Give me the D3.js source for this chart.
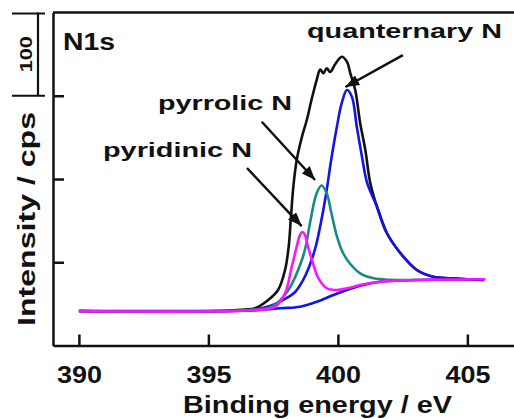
<!DOCTYPE html>
<html>
<head>
<meta charset="utf-8">
<script src="https://cdn.jsdelivr.net/npm/d3@7"></script>
<style>
  body { margin: 0; background: #fff; }
  text { font-family: "Liberation Sans", Arial, sans-serif; font-weight: bold; fill: #111; }
</style>
</head>
<body>
<div id="visual"></div>
<script>
// binding energy (eV) / intensity (cps)
const xTicks = [390, 395, 400, 405];
const yTicks = [100, 200, 300];

const envelope = [
  [390.00, 41.4], [395.84, 42.0], [396.42, 43.2], [396.80, 44.7], [397.31, 54.7],
  [397.69, 66.7], [397.96, 90.7], [398.10, 118.7], [398.18, 150.8], [398.28, 190.8],
  [398.41, 222.8], [398.61, 250.5], [398.80, 270.9], [398.98, 294.9], [399.18, 318.9],
  [399.32, 331.5], [399.44, 327.0], [399.57, 333.0], [399.70, 328.5], [399.90, 338.1],
  [400.15, 346.9], [400.35, 340.9], [400.48, 327.0], [400.67, 306.9], [400.86, 267.3],
  [401.06, 234.8], [401.25, 195.2], [401.51, 166.7], [401.89, 135.1], [402.41, 111.1],
  [403.05, 90.7], [403.68, 82.6], [404.34, 80.7], [405.62, 78.7]
];

const background = [
  [390.00, 41.4], [396.61, 42.0], [397.77, 44.7], [398.54, 46.6], [399.19, 52.6],
  [399.83, 60.7], [400.35, 66.7], [400.86, 71.8], [401.63, 76.6], [403.05, 78.7],
  [405.69, 79.5]
];

const quaternary = [
  [390.00, 41.4], [396.61, 42.6], [397.38, 47.4], [397.96, 55.9], [398.35, 64.3],
  [398.66, 78.7], [398.93, 97.9], [399.16, 120.7], [399.35, 148.3], [399.55, 183.2],
  [399.74, 222.8], [399.96, 262.5], [400.15, 291.3], [400.35, 306.9], [400.54, 298.9],
  [400.73, 262.8], [400.93, 226.8], [401.13, 195.2], [401.51, 166.7], [401.89, 135.1],
  [402.41, 111.1], [403.05, 90.7], [403.68, 82.6], [404.34, 80.7], [405.62, 78.7]
];

const pyrrolic = [
  [390.00, 41.4], [396.61, 42.6], [397.45, 46.6], [398.09, 66.7], [398.61, 102.7],
  [398.77, 120.7], [398.93, 148.3], [399.18, 182.8], [399.37, 192.2], [399.57, 182.8],
  [399.74, 160.4], [399.96, 131.5], [400.20, 111.1], [400.48, 97.9], [400.86, 86.7],
  [401.38, 80.7], [402.02, 78.9], [403.18, 78.7]
];

const pyridinic = [
  [390.00, 41.4], [396.80, 42.6], [397.58, 46.6], [397.96, 62.7], [398.22, 94.7],
  [398.41, 118.7], [398.52, 131.5], [398.62, 136.3], [398.73, 132.7], [398.85, 118.3],
  [399.06, 96.7], [399.25, 80.7], [399.58, 68.7], [399.96, 66.7], [400.35, 68.7],
  [400.99, 73.5], [401.63, 76.6], [403.05, 78.7], [405.69, 79.5]
];

const labels = ["quanternary N", "pyrrolic N", "pyridinic N"];
const arrowFrom = [[402.51, 348.9], [397.06, 268.8], [396.49, 213.2]];
const arrowTo = [[400.29, 310.5], [399.12, 198.8], [398.60, 143.5]];

const W = 514, H = 419;

const svg = d3.select("#visual")
  .append("svg")
  .attr("width", W)
  .attr("height", H);

const x = d3.scaleLinear().domain([389, 406.8]).range([53, 514]);
const y = d3.scaleLinear().domain([0, 400]).range([345.5, 12.5]);

const line = d3.line()
  .x(d => x(d[0]))
  .y(d => y(d[1]))
  .curve(d3.curveCatmullRom.alpha(0.5));

// curves (magenta last so it sits on top of the baseline)
const series = [
  { data: envelope, color: "#111" },
  { data: background, color: "#1414e6" },
  { data: quaternary, color: "#1414e6" },
  { data: pyrrolic, color: "#188a86" },
  { data: pyridinic, color: "#ff14ff" }
];

svg.selectAll("path.curve")
  .data(series)
  .enter()
  .append("path")
  .attr("class", "curve")
  .attr("d", d => line(d.data))
  .attr("fill", "none")
  .attr("stroke", d => d.color)
  .attr("stroke-width", 2.6)
  .attr("stroke-linejoin", "round");

// axes
const xAxis = svg.append("g")
  .attr("transform", `translate(0,${y(0)})`)
  .call(d3.axisBottom(x).tickValues(xTicks).tickSizeInner(-11).tickSizeOuter(0));

const yAxis = svg.append("g")
  .attr("transform", `translate(${x(389)},0)`)
  .call(d3.axisLeft(y).tickValues(yTicks).tickSizeInner(-11).tickSizeOuter(0).tickFormat(() => ""));

svg.selectAll(".domain, .tick line")
  .attr("stroke", "#111")
  .attr("stroke-width", 2.5);

xAxis.selectAll(".tick text")
  .attr("y", 37)
  .attr("dy", null)
  .attr("font-size", 23)
  .attr("textLength", 45)
  .attr("lengthAdjust", "spacingAndGlyphs")
  .attr("fill", "#111");

// top frame line
svg.append("line")
  .attr("x1", x(389)).attr("x2", W)
  .attr("y1", y(400)).attr("y2", y(400))
  .attr("stroke", "#111")
  .attr("stroke-width", 2.5);

// scale bar: 100 cps
const bar = svg.append("g").attr("stroke", "#111").attr("stroke-width", 2.2);
bar.append("line").attr("x1", 38).attr("x2", 38).attr("y1", y(400)).attr("y2", y(300));
bar.append("line").attr("x1", 12).attr("x2", 45).attr("y1", y(400) + 1).attr("y2", y(400) + 1);
bar.append("line").attr("x1", 12).attr("x2", 45).attr("y1", y(300)).attr("y2", y(300));

svg.append("text")
  .attr("transform", `translate(31.5,${(y(400) + y(300)) / 2}) rotate(-90)`)
  .attr("text-anchor", "middle")
  .attr("font-size", 16)
  .attr("textLength", 36)
  .attr("lengthAdjust", "spacingAndGlyphs")
  .text("100");

// axis titles
svg.append("text")
  .attr("x", 183)
  .attr("y", 413)
  .attr("font-size", 23)
  .attr("textLength", 269)
  .attr("lengthAdjust", "spacingAndGlyphs")
  .text("Binding energy / eV");

svg.append("text")
  .attr("transform", "translate(35,219) rotate(-90)")
  .attr("text-anchor", "middle")
  .attr("font-size", 23)
  .attr("textLength", 214)
  .attr("lengthAdjust", "spacingAndGlyphs")
  .text("Intensity / cps");

svg.append("text")
  .attr("x", 63)
  .attr("y", 50)
  .attr("font-size", 23)
  .attr("textLength", 52)
  .attr("lengthAdjust", "spacingAndGlyphs")
  .text("N1s");

// peak labels
const labelPos = [[307, 38, 195], [158, 110, 134], [103, 157, 149]];
labels.forEach((t, i) => {
  svg.append("text")
    .attr("x", labelPos[i][0])
    .attr("y", labelPos[i][1])
    .attr("font-size", 21)
    .attr("textLength", labelPos[i][2])
    .attr("lengthAdjust", "spacingAndGlyphs")
    .text(t);
});

// arrows
svg.append("defs").append("marker")
  .attr("id", "head")
  .attr("markerUnits", "userSpaceOnUse")
  .attr("viewBox", "0 0 14 11")
  .attr("refX", 14)
  .attr("refY", 5.5)
  .attr("markerWidth", 14)
  .attr("markerHeight", 11)
  .attr("orient", "auto")
  .append("path")
  .attr("d", "M0,0L14,5.5L0,11Z")
  .attr("fill", "#111");

arrowFrom.forEach((f, i) => {
  const x1 = x(f[0]), y1 = y(f[1]);
  const x2 = x(arrowTo[i][0]), y2 = y(arrowTo[i][1]);
  svg.append("path")
    .attr("d", `M${x1},${y1}L${x2},${y2}`)
    .attr("stroke", "#111")
    .attr("stroke-width", 2.5)
    .attr("fill", "none")
    .attr("marker-end", "url(#head)");
});
</script>
</body>
</html>
